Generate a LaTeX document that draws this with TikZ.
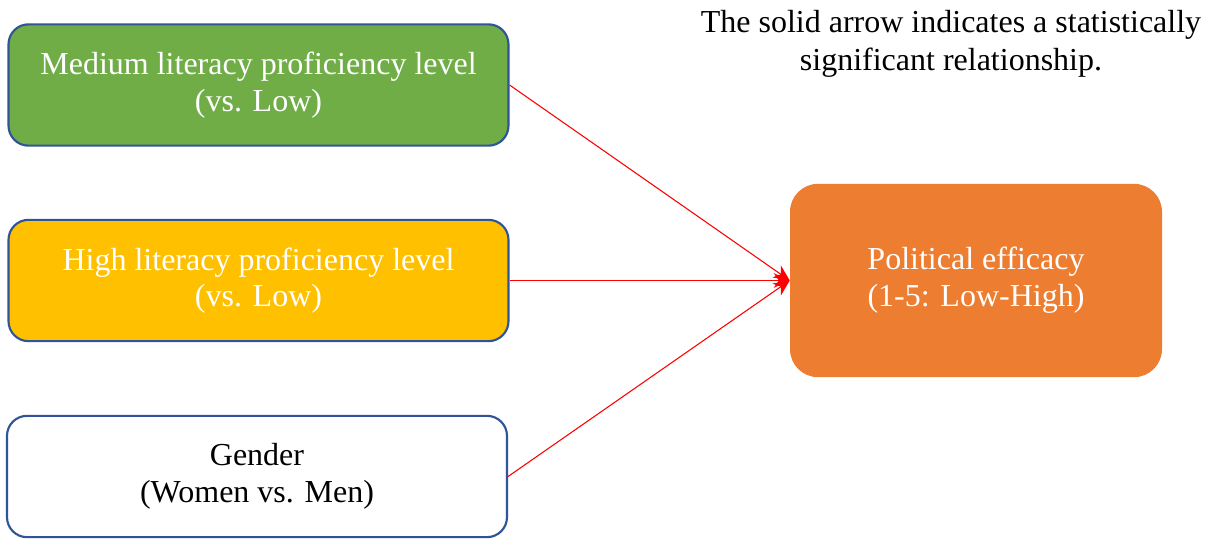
\documentclass[tikz,border=0pt]{standalone}
\usepackage{fontspec}
\setmainfont{Liberation Serif}
\usetikzlibrary{arrows.meta}
\definecolor{boxgreen}{HTML}{70AD47}
\definecolor{boxyellow}{HTML}{FFC000}
\definecolor{boxorange}{HTML}{ED7D31}
\definecolor{boxline}{HTML}{2F5597}
\tikzset{
  boxtext/.style={align=center, font=\fontsize{24}{27.5}\selectfont,
    execute at begin node=\rule{0pt}{23pt}},
  predictor/.style={boxtext, draw=boxline, line width=1.6pt, rounded corners=15pt,
    minimum width=375pt, minimum height=91pt},
  outcome/.style={boxtext, fill=boxorange, text=white, rounded corners=21pt,
    minimum width=279pt, minimum height=145pt},
  effect/.style={red, line width=0.8pt, -{Stealth[length=12pt,width=11pt]}}
}

\begin{document}
\begin{tikzpicture}[x=0.75pt, y=-0.75pt]
        \useasboundingbox (0,0) rectangle (1208,539);

        \node[predictor, fill=boxgreen, text=white] (medium) at (258.5,85) {Medium literacy proficiency level\\(vs. Low)};
        \node[predictor, fill=boxyellow, text=white] (high) at (258.5,280.5) {High literacy proficiency level\\(vs. Low)};
        \node[predictor, fill=white] (gender) at (257,476.5) {Gender\\(Women vs. Men)};

        \node[outcome] (efficacy) at (976,280.5) {Political efficacy\\(1-5: Low-High)};

        \node[align=center, font=\fontsize{24}{28.5}\selectfont] (note) at (951,44) {The solid arrow indicates a statistically\\significant relationship.};

        \draw[effect] (medium.east) -- (efficacy.west);
        \draw[effect] (high.east) -- (efficacy.west);
        \draw[effect] (gender.east) -- (efficacy.west);
\end{tikzpicture}
\end{document}
